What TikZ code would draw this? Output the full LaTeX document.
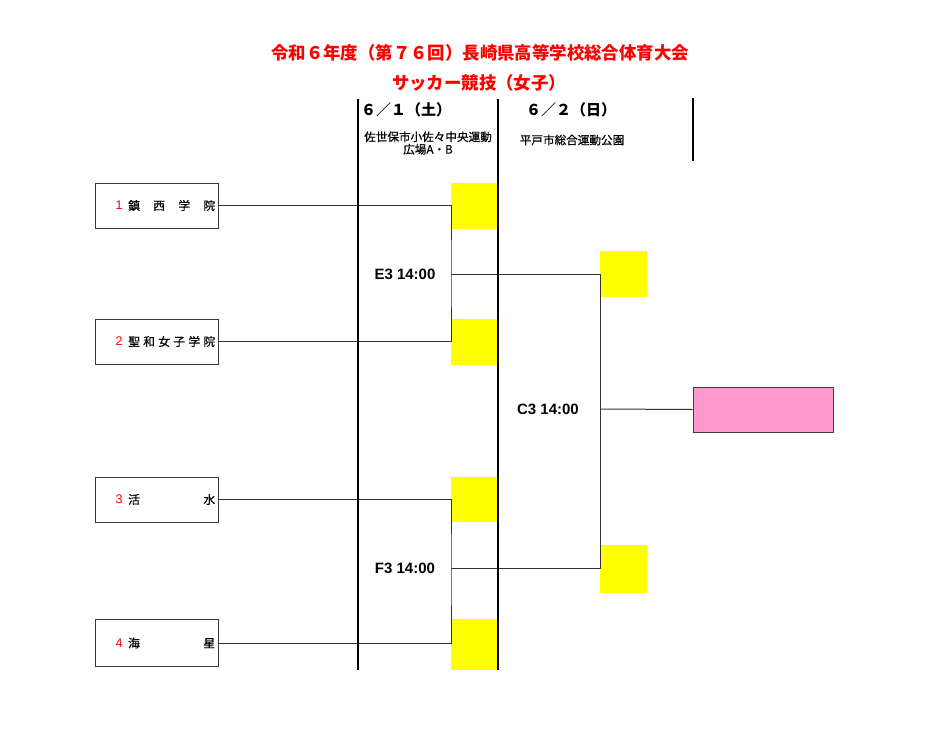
\documentclass[tikz,border=0pt]{standalone}
\usepackage{fontspec}
\setmainfont{Liberation Sans}
\newfontfamily\jp{Noto Sans CJK JP}
\newfontfamily\jpm[FakeBold=0.5]{Noto Sans CJK JP}
\definecolor{pinkc}{RGB}{255,153,204}
\definecolor{slotyellow}{RGB}{255,255,0}
\begin{document}
\begin{tikzpicture}[x=1pt,y=-1pt,
  colline/.style={black, line width=1.3pt},
  link/.style={draw=black!80, line width=1pt},
  teambox/.style={draw=black!78, line width=1pt, minimum width=123pt, minimum height=45pt, inner sep=0pt},
  slot/.style={fill=slotyellow, inner sep=0pt},
  final/.style={fill=pinkc, draw=black!75, line width=1pt, minimum width=140pt, minimum height=45pt, inner sep=0pt},
  titletext/.style={text=red, font=\jp\bfseries\fontsize{17.4}{18}\selectfont, inner sep=0pt},
  headtext/.style={font=\jp\bfseries\fontsize{15}{16}\selectfont, inner sep=0pt, anchor=west},
  venuetext/.style={font=\jpm\fontsize{11.6}{12.5}\selectfont, inner sep=0pt, align=center},
  numtext/.style={text=red, font=\fontsize{12.5}{12.5}\selectfont, inner sep=0pt},
  nametext/.style={font=\jpm\fontsize{11.8}{12}\selectfont, inner sep=0pt, anchor=west},
  matchtext/.style={font=\bfseries\fontsize{15}{15}\selectfont, inner sep=0pt}
]
\fill[white] (0,0) rectangle (949,741);
\useasboundingbox (0,0) rectangle (949,741);

% titles
\node[titletext] (title1) at (480,53) {令和６年度（第７６回）長崎県高等学校総合体育大会};
\node[titletext] (title2) at (479,83) {サッカー競技（女子）};

% column lines
\coordinate (k1a) at (358,99); \coordinate (k1b) at (358,670);
\coordinate (k2a) at (498,99); \coordinate (k2b) at (498,670);
\coordinate (k3a) at (693,98); \coordinate (k3b) at (693,161);

% headers
\node[headtext] (h1) at (361,110) {６／１（土）};
\node[headtext] (h2) at (526,110) {６／２（日）};
\node[venuetext] (v1) at (428,143) {佐世保市小佐々中央運動\\広場A・B};
\node[venuetext] (v2) at (572,140) {平戸市総合運動公園};

% yellow slots
\node[slot, minimum width=46pt, minimum height=46pt] (y1) at (474,206) {};
\node[slot, minimum width=46pt, minimum height=46pt] (y2) at (474,342) {};
\node[slot, minimum width=46pt, minimum height=45pt] (y3) at (474,499.5) {};
\node[slot, minimum width=46pt, minimum height=51pt] (y4) at (474,644.5) {};
\node[slot, minimum width=47pt, minimum height=46pt] (z1) at (623.5,274) {};
\node[slot, minimum width=47pt, minimum height=48pt] (z2) at (623.5,569) {};

% final box
\node[final] (fin) at (763,409.5) {};

% team boxes
\node[teambox] (t1) at (156.5,205.5) {};
\node[teambox] (t2) at (156.5,341.5) {};
\node[teambox] (t3) at (156.5,499.5) {};
\node[teambox, minimum height=47pt] (t4) at (156.5,643) {};

\node[numtext] (n1) at (119,205.5) {1};
\node[numtext] (n2) at (119,341.5) {2};
\node[numtext] (n3) at (119,499.5) {3};
\node[numtext] (n4) at (119,643) {4};
\node[nametext] (m1) at (128,205.5) {\makebox[87pt]{鎮\hfill 西\hfill 学\hfill 院}};
\node[nametext] (m2) at (128,341.5) {\makebox[87pt]{聖\hfill 和\hfill 女\hfill 子\hfill 学\hfill 院}};
\node[nametext] (m3) at (128,499.5) {\makebox[87pt]{活\hfill 水}};
\node[nametext] (m4) at (128,643) {\makebox[87pt]{海\hfill 星}};

% bracket points
\coordinate (e3) at (451,274);
\coordinate (f3) at (451,568);
\coordinate (c3) at (600,409);

\draw[link] (t1.east) -| (e3) |- (t2.east);
\draw[link] (t3.east) -| (f3) |- (t4.east);
\draw[link] (e3) -| (c3) |- (f3);
\draw[link] (c3) -- (fin.west);

\draw[colline] (k1a) -- (k1b);
\draw[colline] (k2a) -- (k2b);
\draw[colline] (k3a) -- (k3b);

% match labels
\node[matchtext] (lE3) at (405,274) {E3 14:00};
\node[matchtext] (lF3) at (405,568) {F3 14:00};
\node[matchtext] (lC3) at (548,409) {C3 14:00};
\end{tikzpicture}
\end{document}
